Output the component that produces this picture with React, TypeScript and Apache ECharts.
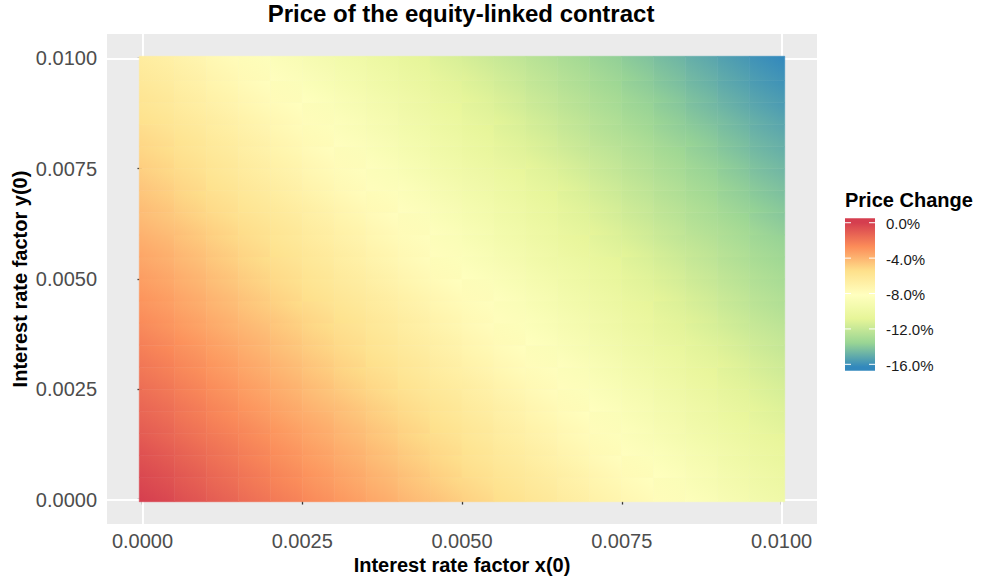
import React, { useEffect, useRef } from 'react';
import * as echarts from 'echarts';

// Grid of factor values (x(0) and y(0)) at which the price change was read
const xFactors = [0, 0.0005, 0.001, 0.0015, 0.002, 0.0025, 0.003, 0.0035, 0.004, 0.0045, 0.005, 0.0055, 0.006, 0.0065, 0.007, 0.0075, 0.008, 0.0085, 0.009, 0.0095, 0.01];
const yFactors = [0, 0.0005, 0.001, 0.0015, 0.002, 0.0025, 0.003, 0.0035, 0.004, 0.0045, 0.005, 0.0055, 0.006, 0.0065, 0.007, 0.0075, 0.008, 0.0085, 0.009, 0.0095, 0.01];

// Price change in %, one row per y(0) value (bottom row first), one column per x(0) value
const priceChange: number[][] = [
  [0.0, -0.5, -1.0, -1.5, -2.0, -2.5, -3.0, -3.5, -4.0, -4.4, -4.9, -5.4, -5.9, -6.4, -6.9, -7.4, -7.9, -8.4, -8.9, -9.4, -9.9],
  [-0.3, -0.8, -1.3, -1.8, -2.3, -2.8, -3.3, -3.8, -4.3, -4.8, -5.3, -5.8, -6.2, -6.7, -7.2, -7.7, -8.2, -8.7, -9.2, -9.7, -10.2],
  [-0.6, -1.1, -1.6, -2.1, -2.6, -3.1, -3.6, -4.1, -4.6, -5.1, -5.6, -6.1, -6.6, -7.1, -7.6, -8.1, -8.5, -9.0, -9.5, -10.0, -10.5],
  [-1.0, -1.5, -2.0, -2.4, -2.9, -3.4, -3.9, -4.4, -4.9, -5.4, -5.9, -6.4, -6.9, -7.4, -7.9, -8.4, -8.9, -9.4, -9.9, -10.3, -10.8],
  [-1.3, -1.8, -2.3, -2.8, -3.3, -3.8, -4.2, -4.7, -5.2, -5.7, -6.2, -6.7, -7.2, -7.7, -8.2, -8.7, -9.2, -9.7, -10.2, -10.7, -11.2],
  [-1.6, -2.1, -2.6, -3.1, -3.6, -4.1, -4.6, -5.1, -5.6, -6.1, -6.5, -7.0, -7.5, -8.0, -8.5, -9.0, -9.5, -10.0, -10.5, -11.0, -11.5],
  [-1.9, -2.4, -2.9, -3.4, -3.9, -4.4, -4.9, -5.4, -5.9, -6.4, -6.9, -7.4, -7.9, -8.3, -8.8, -9.3, -9.8, -10.3, -10.8, -11.3, -11.8],
  [-2.2, -2.7, -3.2, -3.7, -4.2, -4.7, -5.2, -5.7, -6.2, -6.7, -7.2, -7.7, -8.2, -8.7, -9.2, -9.7, -10.2, -10.6, -11.1, -11.6, -12.1],
  [-2.6, -3.1, -3.6, -4.1, -4.5, -5.0, -5.5, -6.0, -6.5, -7.0, -7.5, -8.0, -8.5, -9.0, -9.5, -10.0, -10.5, -11.0, -11.5, -12.0, -12.4],
  [-2.9, -3.4, -3.9, -4.4, -4.9, -5.4, -5.9, -6.3, -6.8, -7.3, -7.8, -8.3, -8.8, -9.3, -9.8, -10.3, -10.8, -11.3, -11.8, -12.3, -12.8],
  [-3.2, -3.7, -4.2, -4.7, -5.2, -5.7, -6.2, -6.7, -7.2, -7.7, -8.2, -8.6, -9.1, -9.6, -10.1, -10.6, -11.1, -11.6, -12.1, -12.6, -13.1],
  [-3.5, -4.0, -4.5, -5.0, -5.5, -6.0, -6.5, -7.0, -7.5, -8.0, -8.5, -9.0, -9.5, -10.0, -10.4, -10.9, -11.4, -11.9, -12.4, -12.9, -13.4],
  [-3.9, -4.3, -4.8, -5.3, -5.8, -6.3, -6.8, -7.3, -7.8, -8.3, -8.8, -9.3, -9.8, -10.3, -10.8, -11.3, -11.8, -12.3, -12.7, -13.2, -13.7],
  [-4.2, -4.7, -5.2, -5.7, -6.1, -6.6, -7.1, -7.6, -8.1, -8.6, -9.1, -9.6, -10.1, -10.6, -11.1, -11.6, -12.1, -12.6, -13.1, -13.6, -14.1],
  [-4.5, -5.0, -5.5, -6.0, -6.5, -7.0, -7.5, -8.0, -8.4, -8.9, -9.4, -9.9, -10.4, -10.9, -11.4, -11.9, -12.4, -12.9, -13.4, -13.9, -14.4],
  [-4.8, -5.3, -5.8, -6.3, -6.8, -7.3, -7.8, -8.3, -8.8, -9.3, -9.8, -10.2, -10.7, -11.2, -11.7, -12.2, -12.7, -13.2, -13.7, -14.2, -14.7],
  [-5.1, -5.6, -6.1, -6.6, -7.1, -7.6, -8.1, -8.6, -9.1, -9.6, -10.1, -10.6, -11.1, -11.6, -12.1, -12.5, -13.0, -13.5, -14.0, -14.5, -15.0],
  [-5.5, -6.0, -6.4, -6.9, -7.4, -7.9, -8.4, -8.9, -9.4, -9.9, -10.4, -10.9, -11.4, -11.9, -12.4, -12.9, -13.4, -13.9, -14.3, -14.8, -15.3],
  [-5.8, -6.3, -6.8, -7.3, -7.8, -8.2, -8.7, -9.2, -9.7, -10.2, -10.7, -11.2, -11.7, -12.2, -12.7, -13.2, -13.7, -14.2, -14.7, -15.2, -15.7],
  [-6.1, -6.6, -7.1, -7.6, -8.1, -8.6, -9.1, -9.6, -10.1, -10.5, -11.0, -11.5, -12.0, -12.5, -13.0, -13.5, -14.0, -14.5, -15.0, -15.5, -16.0],
  [-6.4, -6.9, -7.4, -7.9, -8.4, -8.9, -9.4, -9.9, -10.4, -10.9, -11.4, -11.9, -12.3, -12.8, -13.3, -13.8, -14.3, -14.8, -15.3, -15.8, -16.3],
];

const xTicks = [0, 0.0025, 0.005, 0.0075, 0.01];
const yTicks = [0, 0.0025, 0.005, 0.0075, 0.01];
const xMinorBreaks = [0.00125, 0.00375, 0.00625, 0.00875];
const yMinorBreaks = [0.00125, 0.00375, 0.00625, 0.00875];
const legendBreaks = [0, -4, -8, -12, -16];
const legendLabels = ['0.0%', '-4.0%', '-8.0%', '-12.0%', '-16.0%'];
const valueMin = -16.3;
const valueMax = 0;
// Spectral palette, from the highest value (0%) to the lowest
const spectral = ['#D53E4F', '#FC8D59', '#FEE08B', '#FFFFBF', '#E6F598', '#99D594', '#3288BD'];

const FONT = "'Liberation Sans', Arial, Helvetica, sans-serif";

export default function App() {
  const ref = useRef<HTMLDivElement>(null);

  useEffect(() => {
    if (!ref.current) return;
    const chart = echarts.init(ref.current, null, { renderer: 'svg' });

    const nx = xFactors.length;
    const ny = yFactors.length;
    const cellData: number[][] = [];
    yFactors.forEach((yv, j) => {
      xFactors.forEach((xv, i) => {
        cellData.push([xv, yv, priceChange[j][i]]);
      });
    });

    const rasterPad = 0.00005;
    const xLo = xFactors[0] - rasterPad;
    const xHi = xFactors[nx - 1] + rasterPad;
    const yLo = yFactors[0] - rasterPad;
    const yHi = yFactors[ny - 1] + rasterPad;
    const expX = (xHi - xLo) * 0.05;
    const expY = (yHi - yLo) * 0.05;

    // legend geometry
    const legX = 845;
    const legW = 30;
    const legTop = 218.3;
    const legBottom = 370.7;
    const legVTop = 0.5;
    const legVBottom = -16.72;
    const legY = (v: number) => legTop + ((legVTop - v) / (legVTop - legVBottom)) * (legBottom - legTop);
    const offsetOf = (v: number) => (legY(v) - legTop) / (legBottom - legTop);

    const stops: { offset: number; color: string }[] = [{ offset: 0, color: spectral[0] }];
    spectral.forEach((c, k) => {
      const v = valueMax + ((valueMin - valueMax) * k) / (spectral.length - 1);
      stops.push({ offset: offsetOf(v), color: c });
    });
    stops.push({ offset: 1, color: spectral[spectral.length - 1] });

    const legendGraphics: any[] = [
      {
        type: 'rect',
        shape: { x: legX, y: legTop, width: legW, height: legBottom - legTop },
        style: {
          fill: new echarts.graphic.LinearGradient(0, 0, 0, 1, stops),
        },
        silent: true,
      },
    ];
    legendBreaks.forEach((b, k) => {
      const yy = legY(b);
      legendGraphics.push({
        type: 'line',
        shape: { x1: legX, y1: yy, x2: legX + 6, y2: yy },
        style: { stroke: '#FFFFFF', lineWidth: 1 },
        silent: true,
      });
      legendGraphics.push({
        type: 'line',
        shape: { x1: legX + legW - 6, y1: yy, x2: legX + legW, y2: yy },
        style: { stroke: '#FFFFFF', lineWidth: 1 },
        silent: true,
      });
      legendGraphics.push({
        type: 'text',
        x: legX + legW + 11,
        y: yy + 1,
        style: {
          text: legendLabels[k],
          font: `15px ${FONT}`,
          fill: '#1A1A1A',
          textAlign: 'left',
          textVerticalAlign: 'middle',
        },
        silent: true,
      });
    });

    const gridLines: any[] = [];
    xTicks.forEach((v) => gridLines.push({ xAxis: v, lineStyle: { width: 1.5 } }));
    yTicks.forEach((v) => gridLines.push({ yAxis: v, lineStyle: { width: 1.5 } }));
    xMinorBreaks.forEach((v) => gridLines.push({ xAxis: v, lineStyle: { width: 0.75 } }));
    yMinorBreaks.forEach((v) => gridLines.push({ yAxis: v, lineStyle: { width: 0.75 } }));

    const axisLabelStyle = {
      color: '#4D4D4D',
      fontSize: 20,
      fontFamily: FONT,
    };

    chart.setOption({
      animation: false,
      backgroundColor: '#FFFFFF',
      grid: {
        left: 107,
        top: 34,
        width: 710,
        height: 490,
        show: true,
        backgroundColor: '#EBEBEB',
        borderWidth: 0,
        containLabel: false,
      },
      xAxis: {
        type: 'value',
        min: xLo - expX,
        max: xHi + expX,
        axisLine: { show: false },
        splitLine: { show: false },
        axisTick: {
          show: true,
          customValues: xTicks,
          length: 5,
          lineStyle: { color: '#333333', width: 1.3 },
        },
        axisLabel: {
          customValues: xTicks,
          formatter: (v: number) => v.toFixed(4),
          margin: 7,
          ...axisLabelStyle,
        },
      },
      yAxis: {
        type: 'value',
        min: yLo - expY,
        max: yHi + expY,
        axisLine: { show: false },
        splitLine: { show: false },
        axisTick: {
          show: true,
          customValues: yTicks,
          length: 5,
          lineStyle: { color: '#333333', width: 1.3 },
        },
        axisLabel: {
          customValues: yTicks,
          formatter: (v: number) => v.toFixed(4),
          margin: 10,
          ...axisLabelStyle,
        },
      },
      visualMap: {
        show: false,
        type: 'continuous',
        min: valueMin,
        max: valueMax,
        dimension: 2,
        seriesIndex: 1,
        inRange: { color: spectral.slice().reverse() },
      },
      series: [
        {
          type: 'line',
          data: [],
          z: 1,
          silent: true,
          markLine: {
            z: 1,
            silent: true,
            symbol: ['none', 'none'],
            label: { show: false },
            emphasis: { disabled: true },
            lineStyle: { color: '#FFFFFF', type: 'solid' },
            data: gridLines,
          },
        },
        {
          type: 'custom',
          z: 3,
          silent: true,
          encode: { x: 0, y: 1 },
          data: cellData,
          renderItem: (params: any, api: any) => {
            const idx = params.dataIndexInside;
            const i = idx % nx;
            const j = Math.floor(idx / nx);
            if (i >= nx - 1 || j >= ny - 1) return null;
            const xa = i === 0 ? xLo : api.value(0);
            const xb = i + 1 === nx - 1 ? xHi : api.value(0, idx + 1);
            const ya = j === 0 ? yLo : api.value(1);
            const yb = j + 1 === ny - 1 ? yHi : api.value(1, idx + nx);
            const p0 = api.coord([xa, yb]);
            const p1 = api.coord([xb, ya]);
            const c0 = api.visual('color');
            const c1 = api.visual('color', idx + nx + 1);
            const mk = () =>
              new echarts.graphic.LinearGradient(0, 1, 1, 0, [
                { offset: 0, color: c0 },
                { offset: 1, color: c1 },
              ]);
            return {
              type: 'rect',
              shape: { x: p0[0], y: p0[1], width: p1[0] - p0[0], height: p1[1] - p0[1] },
              style: { fill: mk(), stroke: mk(), lineWidth: 0.6 },
            };
          },
        },
      ],
      graphic: [
        {
          type: 'text',
          x: 461,
          y: 13,
          style: {
            text: 'Price of the equity-linked contract',
            font: `bold 24px ${FONT}`,
            fill: '#000000',
            textAlign: 'center',
            textVerticalAlign: 'middle',
          },
          silent: true,
        },
        {
          type: 'text',
          x: 462,
          y: 565,
          style: {
            text: 'Interest rate factor x(0)',
            font: `bold 20px ${FONT}`,
            fill: '#000000',
            textAlign: 'center',
            textVerticalAlign: 'middle',
          },
          silent: true,
        },
        {
          type: 'text',
          x: 20,
          y: 279,
          rotation: Math.PI / 2,
          style: {
            text: 'Interest rate factor y(0)',
            font: `bold 20px ${FONT}`,
            fill: '#000000',
            textAlign: 'center',
            textVerticalAlign: 'middle',
          },
          silent: true,
        },
        {
          type: 'text',
          x: 845,
          y: 200,
          style: {
            text: 'Price Change',
            font: `bold 20px ${FONT}`,
            fill: '#000000',
            textAlign: 'left',
            textVerticalAlign: 'middle',
          },
          silent: true,
        },
        ...legendGraphics,
      ],
    });

    return () => {
      chart.dispose();
    };
  }, []);

  return (
    <div
      ref={ref}
      style={{ position: 'fixed', left: 0, top: 0, width: 983, height: 582, background: '#FFFFFF' }}
    />
  );
}
